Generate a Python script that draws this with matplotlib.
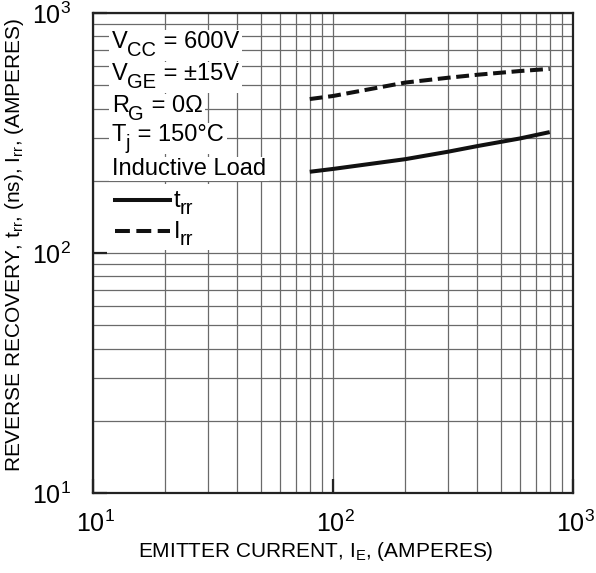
import matplotlib
matplotlib.use("Agg")
import matplotlib.pyplot as plt
import matplotlib.transforms as mtransforms

plt.rcParams['font.family'] = ['Liberation Sans', 'DejaVu Sans']
plt.rcParams['mathtext.fontset'] = 'custom'
plt.rcParams['mathtext.rm'] = 'Liberation Sans'
plt.rcParams['mathtext.it'] = 'Liberation Sans:italic'
plt.rcParams['mathtext.default'] = 'regular'

# Data
emitter_current = [80, 100, 200, 300, 400, 600, 800]
t_rr = [218, 224, 246, 264, 279, 300, 319]
i_rr = [438, 451, 513, 537, 553, 573, 585]

# condition lines: (main, subscript, rest)
conditions = [
    ("V", "CC", " = 600V"),
    ("V", "GE", " = ±15V"),
    ("R", "G", " = 0Ω"),
    ("T", "j", " = 150°C"),
    ("Inductive Load", "", ""),
]
legend_labels = [("t", "rr"), ("I", "rr")]

W, H = 596, 573
fig = plt.figure(figsize=(W / 100, H / 100), dpi=100)
L, R, T, B = 93, 573, 13, 493
ax = fig.add_axes([L / W, (H - B) / H, (R - L) / W, (B - T) / H])

ax.set_xscale('log')
ax.set_yscale('log')
ax.set_xlim(10, 1000)
ax.set_ylim(10, 1000)

ax.grid(True, which='both', color='#6a6a6a', linewidth=0.9)
ax.set_axisbelow(True)
for s in ax.spines.values():
    s.set_linewidth(1.6)
    s.set_color('#222222')

ax.tick_params(which='major', direction='in', length=10, width=1.6,
               labelsize=18, color='#222222')
ax.tick_params(which='minor', length=0)
ax.tick_params(axis='x', pad=13)
ax.tick_params(axis='y', pad=16)

ln1, = ax.plot(emitter_current, t_rr, color='#111111', lw=2.9,
               solid_capstyle='butt', zorder=3)
ln2, = ax.plot(emitter_current, i_rr, color='#111111', lw=2.9,
               linestyle=(0, (3.2, 1.4)), zorder=3)

offset = mtransforms.ScaledTranslation(2 / 100, 0, fig.dpi_scale_trans)
for lab in ax.get_xticklabels():
    lab.set_transform(lab.get_transform() + offset)

renderer = fig.canvas.get_renderer()
pix = mtransforms.IdentityTransform()


def sub_text(x, by, main, sub, rest, size=17, subsize=14.5, drop=8, bg=True):
    """Draw text with a large subscript, in pixel coordinates (top-left origin)."""
    arts = []
    t = fig.text(x, H - by, main, fontsize=size, ha='left', va='baseline',
                 transform=pix, zorder=6)
    arts.append(t)
    x += t.get_window_extent(renderer).width
    if sub:
        t = fig.text(x - 1, H - by - drop, sub, fontsize=subsize, ha='left',
                     va='baseline', transform=pix, zorder=6)
        arts.append(t)
        x += t.get_window_extent(renderer).width
    if rest:
        t = fig.text(x, H - by, rest, fontsize=size, ha='left', va='baseline',
                     transform=pix, zorder=6)
        arts.append(t)
    if bg:
        bb = mtransforms.Bbox.union([a.get_window_extent(renderer) for a in arts])
        fig.add_artist(plt.Rectangle((bb.x0 - 3, bb.y0 - 1), bb.width + 6,
                                     bb.height + 2, transform=pix,
                                     facecolor='white', edgecolor='none',
                                     zorder=5))


baselines = [48, 80, 112, 141, 175]
for (m, s, r), by in zip(conditions, baselines):
    sub_text(112, by, m, s, r)

# legend: white panel, sample lines and labels
ax.add_patch(plt.Rectangle(((100 - L) / (R - L), (B - 250) / (B - T)),
                           (228 - 100) / (R - L), (250 - 184) / (B - T),
                           transform=ax.transAxes, facecolor='white',
                           edgecolor='none', zorder=4))
leg_rows = [200, 231]
for ln, (m, s), y in zip([ln1, ln2], legend_labels, leg_rows):
    fig.add_artist(plt.Line2D([115, 170], [H - y, H - y], transform=pix,
                              color=ln.get_color(), lw=ln.get_linewidth(),
                              linestyle=ln.get_linestyle(), zorder=6))
    sub_text(174, y + 7, m, s, "", size=17, subsize=14.5, drop=7, bg=False)

ax.set_xlabel(r"EMITTER CURRENT, I$_\mathregular{E}$, (AMPERES)", fontsize=15)
ax.set_ylabel(r"REVERSE RECOVERY, t$_\mathregular{rr}$, (ns), I$_\mathregular{rr}$, (AMPERES)",
              fontsize=15)
ax.xaxis.set_label_coords((316 - L) / (R - L), (B - 540) / (B - T))
ax.yaxis.set_label_coords((26 - L) / (R - L), (B - 245) / (B - T))

fig.savefig('out.png', dpi=100)
